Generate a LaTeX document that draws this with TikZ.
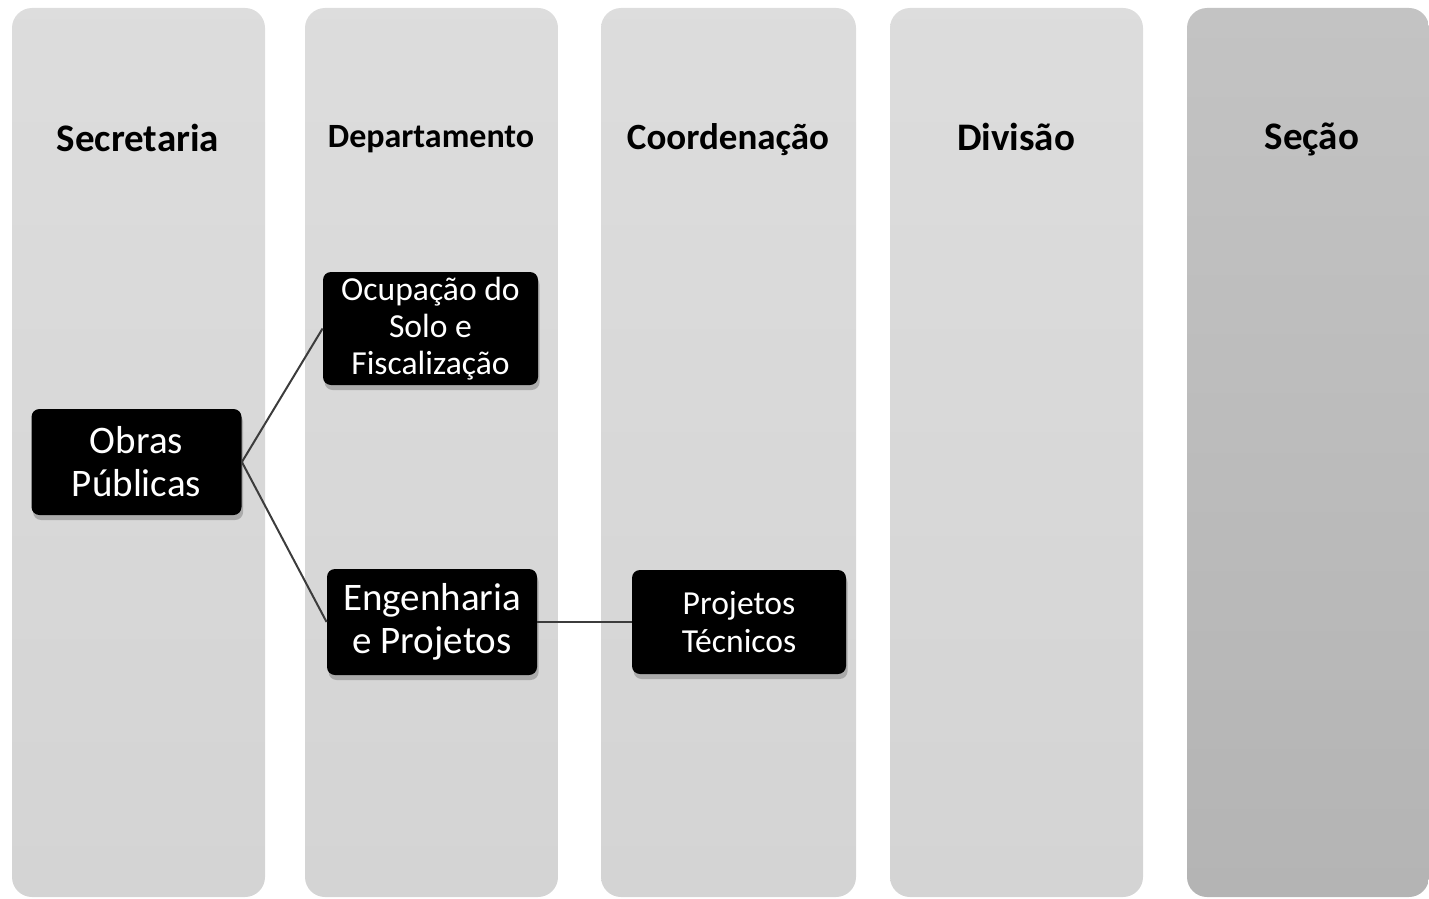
\documentclass[tikz,border=0pt]{standalone}
\usepackage{fontspec}
\setmainfont{Carlito}
\usetikzlibrary{shadows,positioning}
\definecolor{lanecol}{RGB}{212,212,212}
\definecolor{lanedark}{RGB}{180,180,180}
\definecolor{linkcol}{RGB}{60,60,60}
\tikzset{
  % swim lane background
  lane/.style={rounded corners=10pt, top color=#1!80!white, bottom color=#1, draw=none},
  lane/.default={lanecol},
  % lane title
  lanetitle/.style={font={\bfseries\fontsize{#1}{#1}\selectfont}, text=black, inner sep=0pt, anchor=base},
  lanetitle/.default={19.5},
  % black unit box
  unitbox/.style={rectangle, rounded corners=4pt, fill=black, text=white, align=center,
                  minimum width=105pt, minimum height=53pt, inner sep=1pt,
                  drop shadow={shadow xshift=0.8pt, shadow yshift=-2.5pt, opacity=0.5}},
  % box text sizes
  bigtext/.style={font={\fontsize{19.5}{21.5}\selectfont}},
  smalltext/.style={font={\fontsize{16.8}{18.6}\selectfont}},
  % connector
  link/.style={draw=linkcol, line width=1pt},
}

\begin{document}
\begin{tikzpicture}[x=0.5pt, y=-0.5pt]
  \useasboundingbox (0,0) rectangle (1429,899);
  % lanes
  \foreach \xl/\xr/\col in {12/265/lanecol, 305/558/lanecol, 601/856/lanecol,
                            890/1143/lanecol, 1187/1429/lanedark}
    \path[lane=\col] (\xl,8) rectangle (\xr,897);
  % lane titles
  \foreach \n/\cx/\by/\fs/\txt in {sec/138/151/19.5/Secretaria, dep/431/148/17/Departamento,
                                   coo/728/149/18.5/Coordenação, div/1016/150/19.5/Divisão,
                                   secao/1312/149/19.5/Seção}
    \node[lanetitle=\fs] (title-\n) at (\cx,\by) {\txt};

  % units
  \node[unitbox, bigtext] (obras) at (136.5,462) {Obras\\Públicas};
  \node[unitbox, smalltext, minimum width=107.5pt, minimum height=56.5pt] (ocupacao) at (430.5,328.5)
    {Ocupação do\\Solo e\\Fiscalização};
  \node[unitbox, bigtext] (engenharia) at (432,622) {Engenharia\\e Projetos};
  \node[unitbox, smalltext, minimum width=107pt, minimum height=52pt] (projetos) at (739,622)
    {Projetos\\Técnicos};

  % links
  \draw[link] (obras.east) -- (ocupacao.west);
  \draw[link] (obras.east) -- (engenharia.west);
  \draw[link] (engenharia.east) -- (projetos.west);
\end{tikzpicture}
\end{document}
